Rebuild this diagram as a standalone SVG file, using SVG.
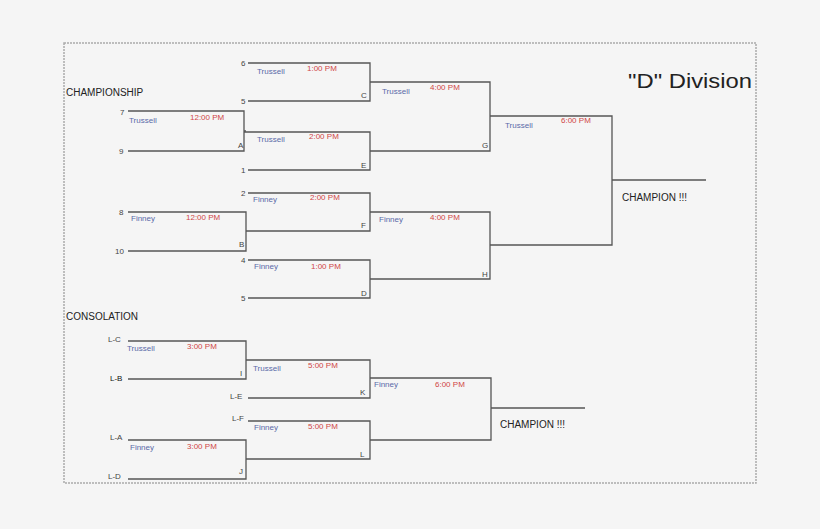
<svg xmlns="http://www.w3.org/2000/svg" width="820" height="529" viewBox="0 0 820 529">
<style>
text{font-family:"Liberation Sans",Arial,sans-serif;font-size:8px;fill:#444}
.n{fill:#5a6aa8}.t{fill:#d04545}.h{font-size:10px;fill:#222}
.c path{fill:none;stroke:#555;stroke-width:1.3}
</style>
<rect width="820" height="529" fill="#f5f5f5"/>
<rect x="64" y="43" width="692" height="440" fill="none" stroke="#aaa" stroke-width="1.5" stroke-dasharray="2 1"/>
<g class="c" id="connectors">
<path d="M128 111H244V151H128M244 131H246"/>
<path d="M128 212H246V251H128"/>
<path d="M248 63H370V101H248"/>
<path d="M244 132H370V170H248"/>
<path d="M248 193H370V231H246"/>
<path d="M248 260H370V298H248"/>
<path d="M370 82H490V151H370"/>
<path d="M370 212H490V279H370"/>
<path d="M490 116H612V245H490M612 180H706"/>
<path d="M128 341H246V379H128"/>
<path d="M128 440H246V479H128"/>
<path d="M246 360H370V398H248"/>
<path d="M248 421H370V459H246"/>
<path d="M370 378H491V440H370M491 408H585"/>
</g>
<g id="titles">
<text x="66" y="96" class="h">CHAMPIONSHIP</text>
<text x="66" y="320" class="h">CONSOLATION</text>
<text x="628" y="88" style="font-size:20px;fill:#222" textLength="124" lengthAdjust="spacingAndGlyphs">"D" Division</text>
<text x="622" y="201" class="h">CHAMPION !!!</text>
<text x="500" y="428" class="h">CHAMPION !!!</text>
</g>
<g id="A"><text x="120" y="115">7</text><text x="119" y="154">9</text><text x="129" y="123" class="n">Trussell</text><text x="190" y="120" class="t">12:00 PM</text><text x="238" y="148">A</text></g>
<g id="B"><text x="119" y="215">8</text><text x="115" y="254">10</text><text x="131" y="221" class="n">Finney</text><text x="186" y="220" class="t">12:00 PM</text><text x="239" y="247">B</text></g>
<g id="C"><text x="241" y="66">6</text><text x="241" y="104">5</text><text x="257" y="74" class="n">Trussell</text><text x="307" y="71" class="t">1:00 PM</text><text x="361" y="98">C</text></g>
<g id="E"><text x="241" y="173">1</text><text x="257" y="142" class="n">Trussell</text><text x="309" y="139" class="t">2:00  PM</text><text x="361" y="168">E</text></g>
<g id="F"><text x="241" y="196">2</text><text x="253" y="202" class="n">Finney</text><text x="310" y="200" class="t">2:00 PM</text><text x="361" y="228">F</text></g>
<g id="D"><text x="241" y="263">4</text><text x="241" y="301">5</text><text x="254" y="269" class="n">Finney</text><text x="311" y="269" class="t">1:00 PM</text><text x="361" y="296">D</text></g>
<g id="G"><text x="382" y="94" class="n">Trussell</text><text x="430" y="90" class="t">4:00 PM</text><text x="482" y="148">G</text></g>
<g id="H"><text x="379" y="222" class="n">Finney</text><text x="430" y="220" class="t">4:00 PM</text><text x="482" y="277">H</text></g>
<g id="final"><text x="505" y="128" class="n">Trussell</text><text x="561" y="123" class="t">6:00 PM</text></g>
<g id="I"><text x="108" y="342">L-C</text><text x="110" y="381" style="fill:#111">L-B</text><text x="127" y="351" class="n">Trussell</text><text x="187" y="349" class="t">3:00 PM</text><text x="240" y="376">I</text></g>
<g id="J"><text x="110" y="440">L-A</text><text x="108" y="479">L-D</text><text x="130" y="450" class="n">Finney</text><text x="187" y="449" class="t">3:00 PM</text><text x="239" y="474">J</text></g>
<g id="K"><text x="230" y="399">L-E</text><text x="253" y="371" class="n">Trussell</text><text x="308" y="368" class="t">5:00 PM</text><text x="360" y="395">K</text></g>
<g id="L"><text x="232" y="421">L-F</text><text x="254" y="430" class="n">Finney</text><text x="308" y="429" class="t">5:00 PM</text><text x="360" y="457">L</text></g>
<g id="M"><text x="374" y="387" class="n">Finney</text><text x="435" y="387" class="t">6:00 PM</text></g>
</svg>
